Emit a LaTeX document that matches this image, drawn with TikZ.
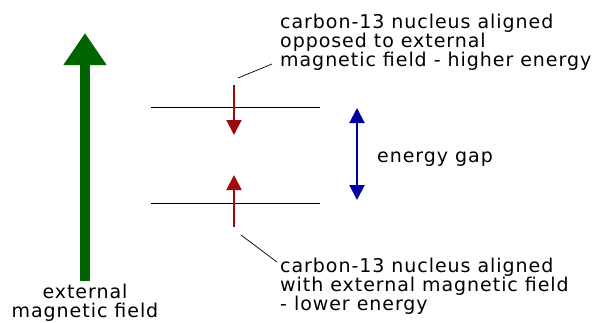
\documentclass[tikz,border=0pt]{standalone}
\usepackage{fontspec}
\setmainfont{DejaVu Sans}[LetterSpace=5]
\usetikzlibrary{arrows.meta}
\definecolor{fieldgreen}{RGB}{0,100,0}
\definecolor{spinred}{RGB}{160,10,10}
\definecolor{gapblue}{RGB}{0,0,160}
\tikzset{
  lbl/.style={font=\fontsize{19}{18.8}\selectfont, inner sep=0pt, align=left},
  level/.style={black, line width=1pt},
  spin/.style={draw=spinred, line width=2pt, -{Triangle[width=15pt,length=15pt]}},
  gaparrow/.style={draw=gapblue, line width=2pt, {Triangle[width=15pt,length=15pt]}-{Triangle[width=15pt,length=15pt]}},
  fieldarrow/.style={draw=fieldgreen, line width=10pt, -{Triangle[width=41pt,length=32pt]}},
  leader/.style={black, line width=0.7pt}
}
\begin{document}
\begin{tikzpicture}[x=1pt,y=-1pt]
\useasboundingbox (0,0) rectangle (603,322);
% external field
\node[lbl, align=center] (fieldlbl) at (85,303) {external\\magnetic field};
\coordinate (fieldtop) at (85,33);
\draw[fieldarrow] ([yshift=3pt]fieldlbl.north) -- (fieldtop);
% energy levels
\coordinate (hiL) at (151,107); \coordinate (hiR) at (320,107);
\coordinate (loL) at (151,203); \coordinate (loR) at (320,203);
\draw[level] (hiL) -- (hiR);
\draw[level] (loL) -- (loR);
% nuclear spins
\coordinate (hiS) at (234,85);  \coordinate (hiE) at (234,135);
\coordinate (loS) at (234,227); \coordinate (loE) at (234,175);
\draw[spin] (hiS) -- (hiE);
\draw[spin] (loS) -- (loE);
% gap
\coordinate (gapT) at (357,108); \coordinate (gapB) at (357,200);
\draw[gaparrow] (gapT) -- (gapB);
\node[lbl, anchor=west] (gaplbl) at (377,159) {energy gap};
% labels
\node[lbl, anchor=west] (hilbl) at (280,42) {carbon-13 nucleus aligned\\opposed to external\\magnetic field - higher energy};
\node[lbl, anchor=west] (lolbl) at (280,286) {carbon-13 nucleus aligned\\with external magnetic field\\- lower energy};
\coordinate (hiP) at (238,78); \coordinate (hiQ) at (272,64);
\coordinate (loP) at (241,235); \coordinate (loQ) at (277,262);
\draw[leader] (hiP) -- (hiQ);
\draw[leader] (loP) -- (loQ);
\end{tikzpicture}
\end{document}
